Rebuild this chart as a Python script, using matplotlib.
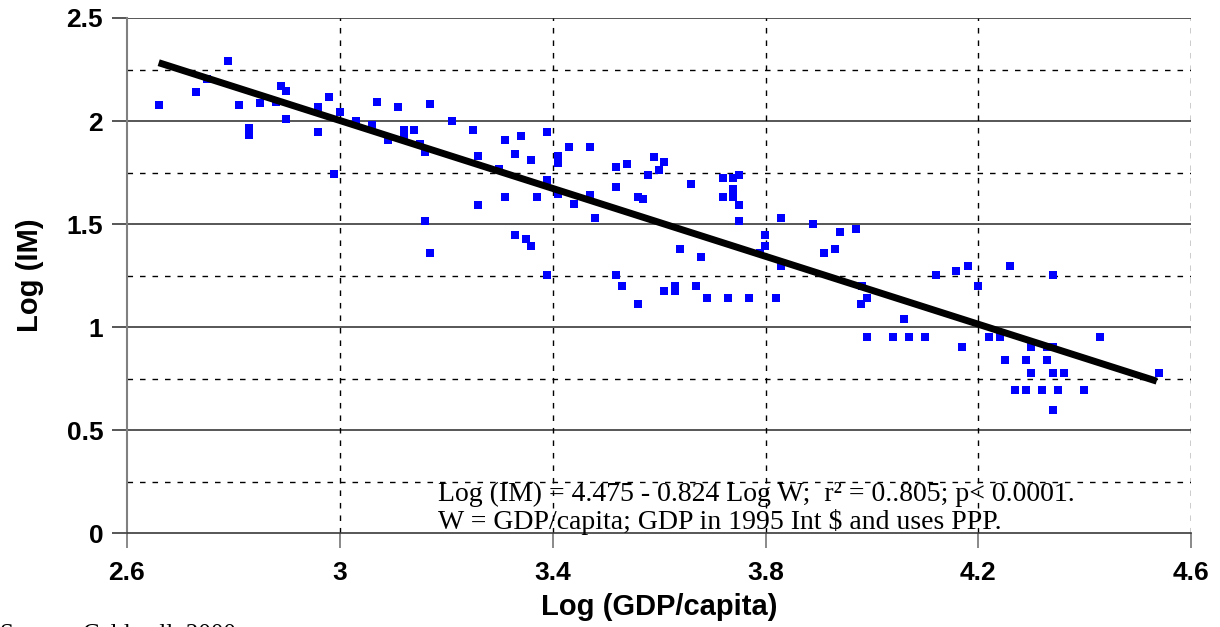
import numpy as np
import matplotlib
matplotlib.use("Agg")
import matplotlib.pyplot as plt
from matplotlib.ticker import FixedLocator, FixedFormatter

# data (Log GDP/capita, Log IM)
log_gdp = [2.661, 2.731, 2.751, 2.791, 2.811, 2.830, 2.830, 2.851, 2.881, 2.890,
           2.900, 2.900, 2.960, 2.960, 2.980, 2.990, 3.001, 3.031, 3.061, 3.061,
           3.071, 3.091, 3.110, 3.121, 3.121, 3.140, 3.151, 3.161, 3.161, 3.170,
           3.170, 3.211, 3.251, 3.260, 3.260, 3.300, 3.311, 3.311, 3.330, 3.330,
           3.341, 3.350, 3.360, 3.360, 3.371, 3.390, 3.390, 3.390, 3.411, 3.411,
           3.411, 3.431, 3.441, 3.471, 3.471, 3.480, 3.519, 3.519, 3.519, 3.531,
           3.540, 3.561, 3.570, 3.561, 3.580, 3.591, 3.600, 3.610, 3.610, 3.630,
           3.630, 3.640, 3.660, 3.670, 3.679, 3.690, 3.720, 3.720, 3.730, 3.739,
           3.739, 3.739, 3.750, 3.750, 3.750, 3.769, 3.790, 3.799, 3.799, 3.820,
           3.829, 3.829, 3.889, 3.910, 3.931, 3.940, 3.970, 3.982, 3.991, 3.980,
           3.991, 4.040, 4.060, 4.070, 4.100, 4.120, 4.158, 4.169, 4.180, 4.199,
           4.220, 4.241, 4.250, 4.259, 4.268, 4.290, 4.290, 4.299, 4.299, 4.320,
           4.329, 4.329, 4.340, 4.340, 4.340, 4.340, 4.349, 4.360, 4.398, 4.428,
           4.539]
log_im = [2.076, 2.139, 2.202, 2.289, 2.076, 1.964, 1.932, 2.088, 2.093, 2.168,
          2.148, 2.008, 2.067, 1.948, 2.117, 1.744, 2.045, 2.001, 1.980, 1.965,
          2.093, 1.906, 2.066, 1.959, 1.923, 1.959, 1.888, 1.851, 1.516, 2.083,
          1.358, 2.001, 1.959, 1.830, 1.591, 1.768, 1.906, 1.632, 1.841, 1.445,
          1.928, 1.429, 1.812, 1.395, 1.632, 1.948, 1.713, 1.254, 1.830, 1.797,
          1.644, 1.875, 1.600, 1.875, 1.641, 1.531, 1.776, 1.678, 1.254, 1.201,
          1.792, 1.632, 1.623, 1.113, 1.738, 1.825, 1.762, 1.802, 1.174, 1.201,
          1.174, 1.377, 1.695, 1.201, 1.341, 1.143, 1.725, 1.632, 1.143, 1.725,
          1.670, 1.632, 1.736, 1.591, 1.516, 1.143, 1.358, 1.445, 1.395, 1.143,
          1.531, 1.298, 1.501, 1.358, 1.377, 1.460, 1.477, 1.199, 1.143, 1.113,
          0.951, 0.951, 1.038, 0.951, 0.951, 1.254, 1.275, 0.902, 1.298, 1.201,
          0.951, 0.951, 0.842, 1.298, 0.697, 0.842, 0.697, 0.902, 0.779, 0.697,
          0.902, 0.842, 0.902, 1.254, 0.779, 0.600, 0.697, 0.779, 0.697, 0.951,
          0.779]

# regression from the annotation
intercept = 4.475
slope = -0.824
fit_range = [2.66, 4.535]

x_ticks = [2.6, 3.0, 3.4, 3.8, 4.2, 4.6]
x_labels = ["2.6", "3", "3.4", "3.8", "4.2", "4.6"]
y_ticks = [0, 0.5, 1.0, 1.5, 2.0, 2.5]
y_labels = ["0", "0.5", "1", "1.5", "2", "2.5"]
y_minor = [0.25, 0.75, 1.25, 1.75, 2.25]

sans = ["Liberation Sans", "DejaVu Sans"]
serif = ["Liberation Serif", "DejaVu Serif"]

fig = plt.figure(figsize=(12.2, 6.27), dpi=100)
ax = fig.add_axes([0.1039, 0.1494, 0.8726, 0.8219])

ax.set_xlim(2.6, 4.6)
ax.set_ylim(0, 2.5)

# grid
for yv in y_ticks[1:]:
    ax.axhline(yv, color="#3a3a3a", lw=1.2, zorder=1)
for yv in y_minor:
    ax.axhline(yv, color="black", lw=1.0, ls=(0, (4, 5)), zorder=1)
for xv in x_ticks[1:]:
    ax.axvline(xv, color="black", lw=1.0, ls=(0, (4, 5)), zorder=1)

ax.scatter(log_gdp, log_im, marker="s", s=26, color="#0000ff", linewidths=0, zorder=3)

fx = np.array(fit_range)
ax.plot(fx, intercept + slope * fx, color="black", lw=5, solid_capstyle="butt", zorder=4)

for s in ["top", "right"]:
    ax.spines[s].set_visible(False)
ax.spines["left"].set_color("#808080")
ax.spines["left"].set_linewidth(1.5)
ax.spines["bottom"].set_color("#3a3a3a")
ax.spines["bottom"].set_linewidth(1.2)

ax.xaxis.set_major_locator(FixedLocator(x_ticks))
ax.xaxis.set_major_formatter(FixedFormatter(x_labels))
ax.yaxis.set_major_locator(FixedLocator(y_ticks))
ax.yaxis.set_major_formatter(FixedFormatter(y_labels))
ax.tick_params(axis="x", direction="out", length=11, width=1.3, color="#808080", pad=9)
ax.tick_params(axis="y", direction="out", length=11, width=1.2, color="#3a3a3a", pad=6)
for lab in ax.get_xticklabels() + ax.get_yticklabels():
    lab.set_fontfamily(sans)
    lab.set_fontweight("bold")
    lab.set_fontsize(19)

ax.set_xlabel("Log (GDP/capita)", fontsize=21, fontweight="bold", family=sans, labelpad=6)
ax.set_ylabel("Log (IM)", fontsize=21, fontweight="bold", family=sans, labelpad=16)

ax.text(3.185, 0.157, "Log (IM) = 4.475 - 0.824 Log W;  r\u00b2 = 0..805; p< 0.0001.",
        fontsize=20, family=serif, ha="left", va="baseline", zorder=5)
ax.text(3.185, 0.021, "W = GDP/capita; GDP in 1995 Int $ and uses PPP.",
        fontsize=20, family=serif, ha="left", va="baseline", zorder=5)

# source line, cut off at the bottom edge as in the original
fig.text(0.0, -0.012, "Source: Caldwell, 2000", fontsize=18, family=serif,
         ha="left", va="center")

fig.savefig("out.png", dpi=100)
